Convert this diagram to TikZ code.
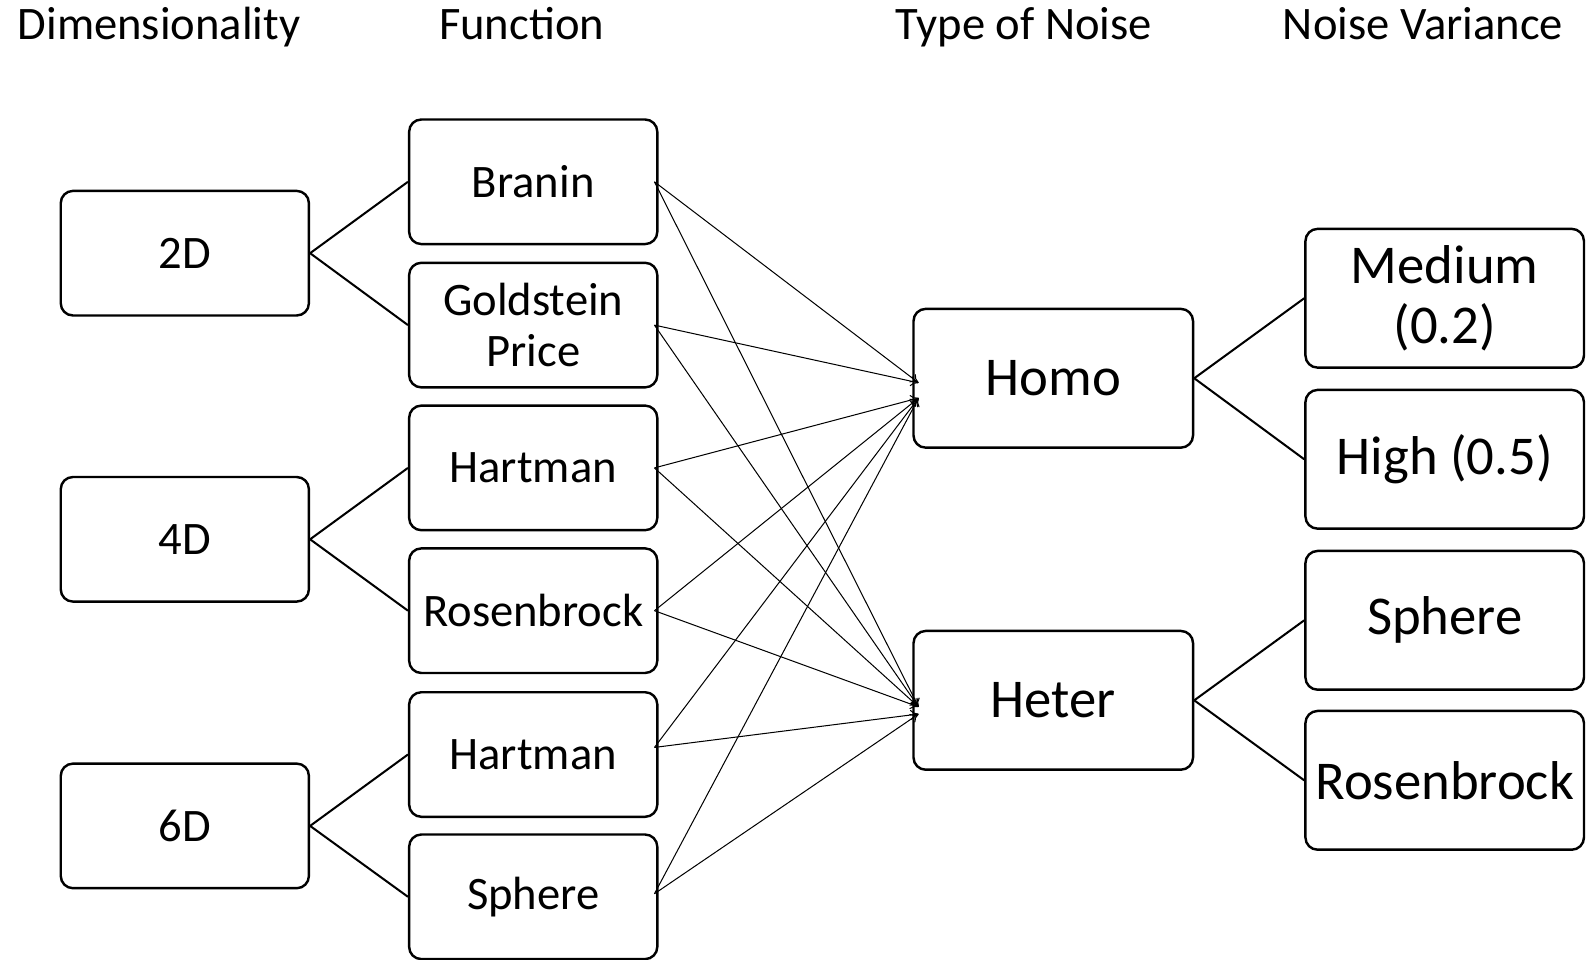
\documentclass[tikz,border=0pt]{standalone}
\usepackage{fontspec}
\setmainfont{Carlito}
\usetikzlibrary{arrows.meta}
\begin{document}
\begin{tikzpicture}[x=0.5pt,y=-0.5pt,
  box/.style={draw,line width=1.2pt,rounded corners=6pt,align=center,inner sep=0pt,
    font=\fontsize{23}{25.5}\selectfont},
  dimbox/.style={box,minimum width=122.5pt,minimum height=61.5pt},
  funbox/.style={box,minimum width=122.5pt,minimum height=61.5pt},
  noisebox/.style={box,minimum width=138pt,minimum height=68.5pt,font=\fontsize{27}{29.5}\selectfont},
  varbox/.style={box,minimum width=137.5pt,minimum height=68.5pt,font=\fontsize{27}{29.5}\selectfont},
  header/.style={inner sep=0pt,anchor=base,font=\fontsize{23}{25}\selectfont},
  tree/.style={line width=1pt},
  arr/.style={line width=0.5pt,-{To[length=4pt,width=5pt]}}]
\useasboundingbox (0,0) rectangle (1568,947);
% headers
\node[header] (h1) at (157,39) {Dimensionality};
\node[header] (h2) at (515,39) {Function};
\node[header] (h3) at (1011,39) {Type of Noise};
\node[header] (h4) at (1405,39) {Noise Variance};
% dimension
\node[dimbox] (d2) at (182.5,250) {2D};
\node[dimbox] (d4) at (182.5,532.5) {4D};
\node[dimbox] (d6) at (182.5,815.5) {6D};
% functions
\node[funbox] (f1) at (526.5,179.5) {Branin};
\node[funbox] (f2) at (526.5,321) {Goldstein\\Price};
\node[funbox] (f3) at (526.5,462) {Hartman};
\node[funbox] (f4) at (526.5,603) {Rosenbrock};
\node[funbox] (f5) at (526.5,745) {Hartman};
\node[funbox] (f6) at (526.5,885.5) {Sphere};
% noise type
\node[noisebox] (homo) at (1040,373.5) {Homo};
\node[noisebox] (heter) at (1040,691.5) {Heter};
% variance
\node[varbox] (v1) at (1426.5,294.5) {Medium\\(0.2)};
\node[varbox] (v2) at (1426.5,453.5) {High (0.5)};
\node[varbox] (v3) at (1426.5,612.5) {Sphere};
\node[varbox] (v4) at (1426.5,770.5) {Rosenbrock};
% tree connectors
\draw[tree] (d2.east) -- (f1.west);
\draw[tree] (d2.east) -- (f2.west);
\draw[tree] (d4.east) -- (f3.west);
\draw[tree] (d4.east) -- (f4.west);
\draw[tree] (d6.east) -- (f5.west);
\draw[tree] (d6.east) -- (f6.west);
\draw[tree] (homo.east) -- (v1.west);
\draw[tree] (homo.east) -- (v2.west);
\draw[tree] (heter.east) -- (v3.west);
\draw[tree] (heter.east) -- (v4.west);
% arrow targets
\coordinate (hA) at (907,378);
\coordinate (hB) at (907,393);
\coordinate (tA) at (907,698);
\coordinate (tB) at (907,705);
% arrows
\draw[arr] ([xshift=-2pt]f1.east) -- (hA);
\draw[arr] ([xshift=-2pt]f1.east) -- (tA);
\draw[arr] ([xshift=-2pt]f2.east) -- (hA);
\draw[arr] ([xshift=-2pt]f2.east) -- (tA);
\draw[arr] ([xshift=-2pt]f3.east) -- (hB);
\draw[arr] ([xshift=-2pt]f3.east) -- (tA);
\draw[arr] ([xshift=-2pt]f4.east) -- (hB);
\draw[arr] ([xshift=-2pt]f4.east) -- (tA);
\draw[arr] ([xshift=-2pt,yshift=3.5pt]f5.east) -- (hB);
\draw[arr] ([xshift=-2pt,yshift=3.5pt]f5.east) -- (tB);
\draw[arr] ([xshift=-2pt,yshift=1.5pt]f6.east) -- (hB);
\draw[arr] ([xshift=-2pt,yshift=1.5pt]f6.east) -- (tB);
\end{tikzpicture}
\end{document}
